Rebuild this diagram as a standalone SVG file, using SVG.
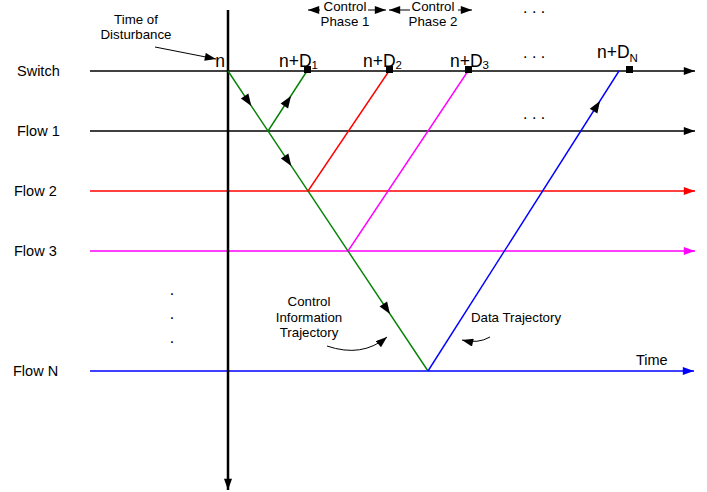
<svg xmlns="http://www.w3.org/2000/svg" width="707" height="492" viewBox="0 0 707 492">
<style>
text{font-family:"Liberation Sans",Arial,sans-serif;fill:#000}
.lbl{font-size:14.5px}
.sm{font-size:13.3px}
.nd{font-size:17.5px}
.sub{font-size:11.5px}
.dots{font-size:16px}
.ax{stroke:#000;stroke-width:1.3;fill:none}
.g{stroke:#008000;stroke-width:1.4;fill:none}
.r{stroke:#ff0000;stroke-width:1.4;fill:none}
.m{stroke:#ff00ff;stroke-width:1.4;fill:none}
.b{stroke:#0000ff;stroke-width:1.4;fill:none}
.thin{stroke:#000;stroke-width:1;fill:none}
</style>
<defs>
<marker id="ahk" viewBox="0 0 14 10" refX="14" refY="5" markerWidth="12" markerHeight="8" markerUnits="userSpaceOnUse" orient="auto"><path d="M0,0 L14,5 L0,10 Z" fill="#000"/></marker>
<marker id="ahb" viewBox="0 0 14 10" refX="14" refY="5" markerWidth="12" markerHeight="8" markerUnits="userSpaceOnUse" orient="auto"><path d="M0,0 L14,5 L0,10 Z" fill="#0000ff"/></marker>
<marker id="ahr" viewBox="0 0 14 10" refX="14" refY="5" markerWidth="12" markerHeight="8" markerUnits="userSpaceOnUse" orient="auto"><path d="M0,0 L14,5 L0,10 Z" fill="#ff0000"/></marker>
<marker id="ahm" viewBox="0 0 14 10" refX="14" refY="5" markerWidth="12" markerHeight="8" markerUnits="userSpaceOnUse" orient="auto"><path d="M0,0 L14,5 L0,10 Z" fill="#ff00ff"/></marker>
<path id="tri" d="M0,0 L-12,-4.5 L-12,4.5 Z" fill="#000"/>
</defs>

<g id="connectors">
<line class="ax" x1="90" y1="71" x2="695" y2="71" marker-end="url(#ahk)"/>
<line class="ax" x1="90" y1="131" x2="695" y2="131" marker-end="url(#ahk)"/>
<line class="r" x1="90" y1="191" x2="695" y2="191" marker-end="url(#ahr)"/>
<line class="m" x1="90" y1="251" x2="695" y2="251" marker-end="url(#ahm)"/>
<line class="b" x1="90" y1="371" x2="694" y2="371" marker-end="url(#ahb)"/>
<line x1="228" y1="10" x2="228" y2="490" stroke="#000" stroke-width="2.5" marker-end="url(#ahk)"/>
<line class="g" x1="228" y1="71" x2="428" y2="371"/>
<line class="g" x1="268" y1="131" x2="307" y2="71"/>
<line class="r" x1="308" y1="191" x2="389" y2="71"/>
<line class="m" x1="348" y1="251" x2="468" y2="71"/>
<line class="b" x1="428" y1="371" x2="619" y2="71"/>
<use href="#tri" transform="translate(251.3,106) rotate(56.31)"/>
<use href="#tri" transform="translate(291,96) rotate(-56.31)"/>
<use href="#tri" transform="translate(291.3,166) rotate(56.31)"/>
<use href="#tri" transform="translate(390,314) rotate(56.31)"/>
<use href="#tri" transform="translate(600,101) rotate(-57.5)"/>
<line class="thin" x1="155" y1="47" x2="216" y2="59" marker-end="url(#ahk)"/>
<path class="thin" d="M327,346 Q362,358 387,337" marker-end="url(#ahk)"/>
<path class="thin" d="M490,337 Q478,344 462,340" marker-end="url(#ahk)"/>
<line class="thin" x1="320" y1="10" x2="308" y2="10" marker-end="url(#ahk)"/>
<line class="thin" x1="368" y1="10" x2="386" y2="10" marker-end="url(#ahk)"/>
<line class="thin" x1="410" y1="10" x2="389" y2="10" marker-end="url(#ahk)"/>
<line class="thin" x1="458" y1="10" x2="472" y2="10" marker-end="url(#ahk)"/>
</g>

<g id="markers">
<rect x="304" y="66" width="7" height="7" fill="#000"/>
<rect x="386" y="66" width="7" height="7" fill="#000"/>
<rect x="465" y="66" width="7" height="7" fill="#000"/>
<rect x="626" y="66" width="7" height="7" fill="#000"/>
</g>

<g id="row-labels">
<text class="lbl" x="17" y="76">Switch</text>
<text class="lbl" x="17" y="136">Flow 1</text>
<text class="lbl" x="14" y="196">Flow 2</text>
<text class="lbl" x="14" y="256">Flow 3</text>
<text class="lbl" x="13" y="376">Flow N</text>
<text class="lbl" x="636" y="365">Time</text>
</g>

<g id="time-labels">
<text class="nd" x="225" y="67" text-anchor="end">n</text>
<text class="nd" x="279" y="67">n+D<tspan class="sub" dy="2">1</tspan></text>
<text class="nd" x="363" y="67">n+D<tspan class="sub" dy="2">2</tspan></text>
<text class="nd" x="450" y="67">n+D<tspan class="sub" dy="2">3</tspan></text>
<text class="nd" x="597" y="58">n+D<tspan class="sub" dy="4">N</tspan></text>
</g>

<g id="ellipses">
<text class="dots" x="523" y="13">. . .</text>
<text class="dots" x="523" y="58">. . .</text>
<text class="dots" x="523" y="119">. . .</text>
<text class="dots" x="172" y="295" text-anchor="middle">.</text>
<text class="dots" x="172" y="319" text-anchor="middle">.</text>
<text class="dots" x="172" y="343" text-anchor="middle">.</text>
</g>

<g id="annotations">
<text class="sm" x="136" y="24" text-anchor="middle">Time of</text>
<text class="sm" x="136" y="39" text-anchor="middle">Disturbance</text>
<text class="sm" x="345" y="11" text-anchor="middle">Control</text>
<text class="sm" x="345" y="26" text-anchor="middle">Phase 1</text>
<text class="sm" x="433" y="11" text-anchor="middle">Control</text>
<text class="sm" x="433" y="26" text-anchor="middle">Phase 2</text>
<text class="sm" x="309" y="306" text-anchor="middle">Control</text>
<text class="sm" x="309" y="322" text-anchor="middle">Information</text>
<text class="sm" x="309" y="337" text-anchor="middle">Trajectory</text>
<text class="sm" x="516" y="322" text-anchor="middle">Data Trajectory</text>
</g>
</svg>
